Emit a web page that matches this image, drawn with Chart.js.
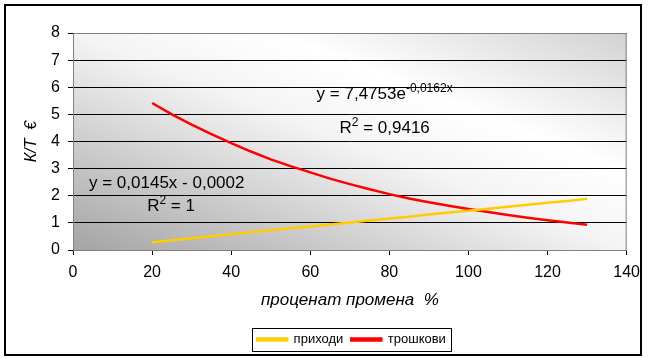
<!DOCTYPE html>
<html>
<head>
<meta charset="utf-8">
<script src="https://cdn.jsdelivr.net/npm/chart.js@4"></script>
<style>
  html, body { margin: 0; padding: 0; background: #fff; }
  #wrap { width: 648px; height: 358px; position: relative; }
</style>
</head>
<body>
<div id="wrap"><canvas id="chart" width="648" height="358"></canvas></div>
<script>
// ---------- Data ----------
const percentChange = [20, 25, 30, 35, 40, 45, 50, 55, 60, 65, 70, 75, 80, 85, 90, 95, 100, 105, 110, 115, 120, 125, 130];
const incomeValues = [0.29, 0.36, 0.435, 0.51, 0.58, 0.65, 0.725, 0.80, 0.87, 0.94, 1.015, 1.09, 1.16, 1.23,
  1.305, 1.38, 1.45, 1.52, 1.595, 1.67, 1.74, 1.81, 1.885];
const costValues = [5.42, 5.0, 4.62, 4.27, 3.94, 3.63, 3.34, 3.09, 2.86, 2.63, 2.43, 2.24, 2.06, 1.90,
  1.76, 1.63, 1.51, 1.40, 1.29, 1.19, 1.10, 1.01, 0.93];
const seriesNames = ['приходи', 'трошкови'];
const xTicks = [0, 20, 40, 60, 80, 100, 120, 140];
const yTicks = [0, 1, 2, 3, 4, 5, 6, 7, 8];

const FONT = '"Liberation Sans", Arial, sans-serif';

// trendline labels: [text, is superscript], anchored in data units
const trendLabels = [
  { x: 78.8, y: 5.56, parts: [['y = 7,4753e', 0], ['-0,0162x', 1]] },
  { x: 78.8, y: 4.31, parts: [['R', 0], ['2', 1], [' = 0,9416', 0]] },
  { x: 23.7, y: 2.30, parts: [['y = 0,0145x - 0,0002', 0]] },
  { x: 24.8, y: 1.44, parts: [['R', 0], ['2', 1], [' = 1', 0]] }
];

const toPoints = vals => vals.map((v, i) => ({ x: percentChange[i], y: v }));

// ---------- Plugins ----------
const frame = {
  id: 'frame',
  afterLayout(chart) {
    // legend sits a little right of centre
    chart.legend.left += 38;
    chart.legend.right += 38;
  },
  beforeDraw(chart) {
    const { ctx, chartArea: a } = chart;
    ctx.save();
    ctx.fillStyle = '#fff';
    ctx.fillRect(0, 0, chart.width, chart.height);

    // diagonal shading, dark lower-left, white in the middle, grey upper-right
    const w = a.right - a.left, h = a.bottom - a.top;
    const cx = a.left + w / 2, cy = a.top + h / 2;
    const len = Math.hypot(w, h);
    const dx = h / len, dy = -w / len;
    const L = w * h / len;
    const g = ctx.createLinearGradient(cx - dx * L, cy - dy * L, cx + dx * L, cy + dy * L);
    g.addColorStop(0, '#a4a4a4');
    g.addColorStop(0.5, '#f4f4f4');
    g.addColorStop(0.68, '#ffffff');
    g.addColorStop(1, '#d2d2d2');
    ctx.fillStyle = g;
    ctx.fillRect(a.left, a.top, w, h);
    ctx.restore();
  },
  afterDraw(chart) {
    const { ctx, chartArea: a } = chart;
    ctx.save();
    // plot border
    ctx.strokeStyle = '#808080';
    ctx.lineWidth = 1;
    ctx.strokeRect(a.left + 0.5, a.top + 0.5, a.right - a.left - 1, a.bottom - a.top);
    // outer border
    ctx.strokeStyle = '#000';
    ctx.lineWidth = 2;
    ctx.strokeRect(5, 5, 636, 350);
    // legend box
    const boxes = chart.legend.legendHitBoxes;
    if (boxes && boxes.length) {
      const l = Math.min(...boxes.map(b => b.left)) - 5;
      const r = Math.max(...boxes.map(b => b.left + b.width)) + 5;
      const t = Math.min(...boxes.map(b => b.top)) - 5;
      const btm = Math.max(...boxes.map(b => b.top + b.height)) + 5;
      ctx.lineWidth = 1;
      ctx.strokeRect(Math.round(l) + 0.5, Math.round(t) + 0.5, Math.round(r - l), Math.round(btm - t));
    }
    ctx.restore();
  },
  afterDatasetsDraw(chart) {
    const { ctx, scales } = chart;
    ctx.save();
    ctx.fillStyle = '#000';
    ctx.textBaseline = 'alphabetic';
    ctx.textAlign = 'left';
    trendLabels.forEach(lbl => {
      const widths = lbl.parts.map(([s, sup]) => {
        ctx.font = (sup ? '12px ' : '17px ') + FONT;
        return ctx.measureText(s).width;
      });
      const total = widths.reduce((a, b) => a + b, 0);
      let x = scales.x.getPixelForValue(lbl.x) - total / 2;
      const y = scales.y.getPixelForValue(lbl.y);
      lbl.parts.forEach(([s, sup], i) => {
        ctx.font = (sup ? '12px ' : '17px ') + FONT;
        ctx.fillText(s, x, sup ? y - 7 : y);
        x += widths[i];
      });
    });
    ctx.restore();
  }
};

// ---------- Chart ----------
const ctx = document.getElementById('chart').getContext('2d');
const chart = new Chart(ctx, {
  type: 'line',
  data: {
    datasets: [
      {
        label: seriesNames[0],
        data: toPoints(incomeValues),
        borderColor: '#ffcc00',
        backgroundColor: '#ffcc00',
        borderWidth: 2.5,
        pointRadius: 0,
        tension: 0
      },
      {
        label: seriesNames[1],
        data: toPoints(costValues),
        borderColor: '#ff0000',
        backgroundColor: '#ff0000',
        borderWidth: 2.5,
        pointRadius: 0,
        tension: 0
      }
    ]
  },
  options: {
    responsive: false,
    animation: false,
    events: [],
    layout: { padding: { left: 0, right: 21, top: 33, bottom: 2 } },
    plugins: {
      tooltip: { enabled: false },
      legend: {
        position: 'bottom',
        labels: {
          color: '#000',
          font: { family: FONT, size: 13 },
          boxWidth: 30,
          boxHeight: 2,
          padding: 8
        }
      }
    },
    scales: {
      x: {
        type: 'linear',
        min: 0,
        max: 140,
        afterBuildTicks: s => { s.ticks = xTicks.map(v => ({ value: v })); },
        afterFit: s => { s.height = 75; },
        ticks: { color: '#000', font: { family: FONT, size: 16 }, padding: 8 },
        grid: { drawOnChartArea: false, color: '#000', tickLength: 5 },
        border: { color: '#000' },
        title: {
          display: true,
          text: 'проценат промена  %',
          color: '#000',
          font: { family: FONT, size: 17, style: 'italic' },
          padding: { top: 4, bottom: 15 }
        }
      },
      y: {
        min: 0,
        max: 8,
        afterBuildTicks: s => { s.ticks = yTicks.map(v => ({ value: v })); },
        afterFit: s => { s.width = 73; },
        ticks: { color: '#000', font: { family: FONT, size: 16 }, padding: 8 },
        grid: { color: '#000', tickLength: 5 },
        border: { color: '#000' },
        title: {
          display: true,
          text: 'К/Т  €',
          color: '#000',
          font: { family: FONT, size: 16, style: 'italic' },
          padding: { top: 22, bottom: 0 }
        }
      }
    }
  },
  plugins: [frame]
});
</script>
</body>
</html>
